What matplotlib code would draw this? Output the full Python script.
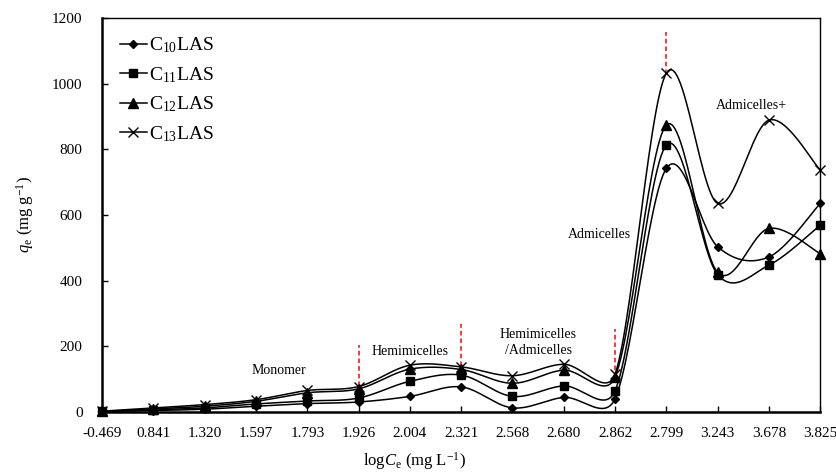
import numpy as np
import matplotlib
matplotlib.use("Agg")
import matplotlib.pyplot as plt

plt.rcParams['font.family'] = ['Liberation Serif', 'DejaVu Serif']
plt.rcParams['mathtext.fontset'] = 'custom'
plt.rcParams['mathtext.rm'] = 'Liberation Serif'
plt.rcParams['mathtext.it'] = 'Liberation Serif:italic'

# category labels on the x axis (logCe, as printed in the source)
x_labels = ['-0.469', '0.841', '1.320', '1.597', '1.793', '1.926', '2.004', '2.321',
            '2.568', '2.680', '2.862', '2.799', '3.243', '3.678', '3.825']

# adsorbed amount qe (mg/g)
c10 = [1, 4, 8, 17, 25, 30, 47, 76, 12, 44, 40, 742, 503, 472, 635]
c11 = [1, 6, 12, 24, 33, 42, 93, 112, 47, 79, 64, 813, 418, 447, 569]
c12 = [1, 9, 17, 32, 58, 70, 130, 129, 87, 127, 106, 874, 425, 559, 482]
c13 = [2, 12, 22, 37, 65, 77, 142, 137, 110, 145, 115, 1032, 635, 889, 737]

series = [
    (c10, 'D', 4.5, r'C$_{10}$LAS'),
    (c11, 's', 6, r'C$_{11}$LAS'),
    (c12, '^', 6.5, r'C$_{12}$LAS'),
    (c13, 'x', 6.5, r'C$_{13}$LAS'),
]

# red dashed markers of the regime boundaries: (category index, y from, y to)
boundaries = [(5, 80, 203), (7, 141, 268), (10, 126, 253), (11, 1030, 1158)]

# region labels: (text, category position, y)
regions = [('Monomer', 3.45, 126), ('Hemimicelles', 6.0, 185),
           ('Hemimicelles\n/Admicelles', 8.5, 210), ('Admicelles', 9.7, 540),
           ('Admicelles+', 12.65, 935)]

# rough screen scale (px per category, px per mg/g) used by the smoothing
SX, SY = 51.3, 0.328


def dist(a, b):
    return np.hypot((b[0] - a[0]) * SX, (b[1] - a[1]) * SY)


# Excel-like smoothed line: Bezier with tangent/6, capped at half the segment length
def smooth(y, n=30):
    y = np.asarray(y, dtype=float)
    P = np.column_stack([np.arange(len(y), dtype=float), y])
    m = len(y)
    xs, ys = [], []
    for i in range(m - 1):
        i0 = max(i - 1, 0)
        i3 = min(i + 2, m - 1)
        seg = dist(P[i], P[i + 1])
        f1 = 1 / 6
        d02 = dist(P[i0], P[i + 1])
        if d02 > 0:
            f1 = min(f1, seg / (2 * d02))
        f2 = 1 / 6
        d13 = dist(P[i], P[i3])
        if d13 > 0:
            f2 = min(f2, seg / (2 * d13))
        b1 = P[i] + (P[i + 1] - P[i0]) * f1
        b2 = P[i + 1] - (P[i3] - P[i]) * f2
        t = np.linspace(0, 1, n)[:, None]
        pts = ((1 - t) ** 3) * P[i] + 3 * ((1 - t) ** 2) * t * b1 + 3 * (1 - t) * t ** 2 * b2 + t ** 3 * P[i + 1]
        xs.extend(pts[:, 0])
        ys.extend(pts[:, 1])
    return np.array(xs), np.array(ys)


fig = plt.figure(figsize=(8.37, 4.75), dpi=100)
ax = fig.add_axes([0.122, 0.133, 0.858, 0.829])

idx = np.arange(len(x_labels))
for vals, mk, ms, lab in series:
    sx, sy = smooth(vals)
    ax.plot(sx, sy, color='black', lw=1.1, clip_on=False)
    ax.plot(idx, vals, linestyle='none', marker=mk, ms=ms, color='black',
            mec='black', mew=1.0, clip_on=False, zorder=3)
    # legend handle only
    ax.plot([], [], color='black', lw=1.1, marker=mk, ms=ms, mew=1.0, label=lab)

for i, y0, y1 in boundaries:
    ax.plot([i, i], [y0, y1], color='red', ls=(0, (3, 2)), lw=1.1)

for txt, xp, yp in regions:
    ax.text(xp, yp, txt, ha='center', va='center', fontsize=10, linespacing=1.3)

ax.set_xlim(0, len(x_labels) - 1)
ax.set_ylim(0, 1200)
ax.set_xticks(idx)
ax.set_xticklabels(x_labels)
ax.set_yticks(range(0, 1201, 200))
ax.tick_params(axis='both', direction='in', length=4, width=1, labelsize=11)
ax.tick_params(axis='x', pad=11)
ax.tick_params(axis='y', pad=14)
for s in ax.spines.values():
    s.set_linewidth(1.0)
ax.spines['bottom'].set_linewidth(1.8)
ax.spines['left'].set_linewidth(1.8)

ax.set_xlabel(r'log$C_{\rm e}$ (mg L$^{-1}$)', fontsize=12)
ax.xaxis.set_label_coords(0.435, -0.098)
ax.set_ylabel(r'$q_{\rm e}$ (mg g$^{-1}$)', fontsize=12, labelpad=12)

ax.legend(loc='upper left', frameon=False, fontsize=14, handlelength=1.4,
          handletextpad=0.1, labelspacing=0.5, borderaxespad=0.5,
          bbox_to_anchor=(0.0, 1.0))

fig.savefig('out.png', dpi=100)
